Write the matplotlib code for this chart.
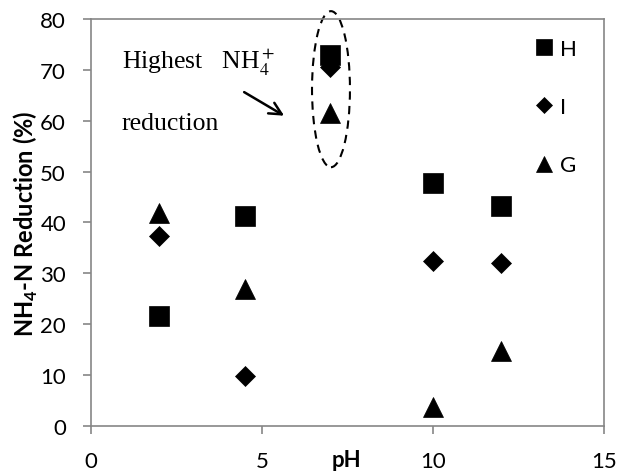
import matplotlib
matplotlib.use("Agg")
import matplotlib.pyplot as plt
from matplotlib.patches import Ellipse

# Datos
ph = [2, 4.5, 7, 10, 12]
red_H = [21.6, 41.3, 73.0, 47.8, 43.2]
red_I = [37.3, 9.8, 70.5, 32.4, 32.0]
red_G = [41.8, 26.9, 61.6, 3.6, 14.7]
series_labels = ["H", "I", "G"]
x_ticks = [0, 5, 10, 15]
y_ticks = [0, 10, 20, 30, 40, 50, 60, 70, 80]

plt.rcParams['font.family'] = ['Lato', 'DejaVu Sans']
plt.rcParams['mathtext.fontset'] = 'custom'
plt.rcParams['mathtext.rm'] = 'Lato'
plt.rcParams['mathtext.bf'] = 'Lato:bold'

gris = '#868686'

fig = plt.figure(figsize=(6.2, 4.77), dpi=100)
ax = fig.add_axes([0.1468, 0.1055, 0.827, 0.8525])

ax.plot(ph, red_H, linestyle='none', marker='s', ms=14, color='black', mew=0.5, label=series_labels[0])
ax.plot(ph, red_I, linestyle='none', marker='D', ms=10, color='black', mew=0.5, label=series_labels[1])
ax.plot(ph, red_G, linestyle='none', marker='^', ms=14, color='black', mew=0.5, label=series_labels[2])

ax.set_xlim(0, 15)
ax.set_ylim(0, 80)
ax.set_xticks(x_ticks)
ax.set_yticks(y_ticks)
ax.tick_params(labelsize=16, length=6, width=1.2, color=gris, direction='out', pad=12)
for s in ax.spines.values():
    s.set_color(gris)
    s.set_linewidth(1.2)

ax.set_ylabel(r'NH$_{\mathbf{4}}$-N Reduction (%)', fontsize=17, fontweight='bold', labelpad=0)
ax.text(7.48, -6.6, 'pH', fontsize=16, fontweight='bold', ha='center', va='center')

leg = ax.legend(loc='upper left', bbox_to_anchor=(0.828, 1.0), frameon=False, fontsize=16,
                labelspacing=1.72, handlelength=0.8, handletextpad=0.3, markerscale=0.8)

# Anotación
ax.text(0.9, 70.5, r'Highest   NH$_4^+$', family='Liberation Serif', fontsize=18.5, math_fontfamily='stix')
ax.text(0.9, 58.3, 'reduction', family='Liberation Serif', fontsize=18.5)
ax.annotate('', xy=(5.72, 60.7), xytext=(4.41, 65.9),
            arrowprops=dict(arrowstyle='->', color='black', lw=1.8, mutation_scale=22))
ell = Ellipse((7.02, 66.2), 1.11, 30.7, fill=False, linestyle=(0, (4, 3)), color='black', lw=1.5, clip_on=False)
ax.add_patch(ell)

fig.savefig('out.png', dpi=100)
